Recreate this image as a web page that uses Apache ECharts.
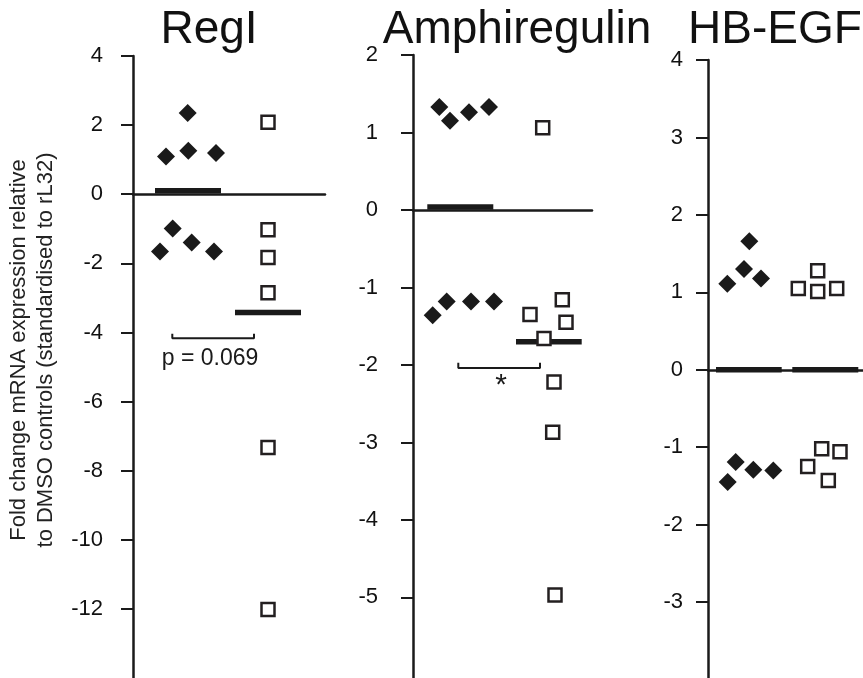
<!DOCTYPE html>
<html>
<head>
<meta charset="utf-8">
<script src="https://cdn.jsdelivr.net/npm/echarts@6/dist/echarts.min.js"></script>
<style>
  html, body { margin: 0; padding: 0; background: #fff; }
  #chart { width: 863px; height: 678px; }
</style>
</head>
<body>
<div id="chart"></div>
<script>
// ---- data (x = jitter slot, 1 unit = 10px from the y axis) ----
const titles = ['RegI', 'Amphiregulin', 'HB-EGF'];

// RegI
const regCtrlX = [3.3, 5.47, 5.53, 8.3, 3.97, 5.87, 2.7, 8.1];
const regCtrlY = [1.09, 2.35, 1.26, 1.19, -0.99, -1.40, -1.66, -1.66];
const regTrtX = [13.5, 13.5, 13.5, 13.5, 13.5, 13.5];
const regTrtY = [2.08, -1.03, -1.83, -2.85, -7.33, -12.02];
const regMeans = [0.1, -3.42];
const regMeanSpan = [[2.2, 8.8], [10.2, 16.8]];
const regTicks = [4, 2, 0, -2, -4, -6, -8, -10, -12];

// Amphiregulin
const amphCtrlX = [2.63, 3.7, 5.6, 7.6, 1.97, 3.37, 5.8, 8.1];
const amphCtrlY = [1.33, 1.15, 1.26, 1.33, -1.36, -1.18, -1.18, -1.18];
const amphTrtX = [12.97, 11.7, 14.93, 15.3, 13.1, 14.1, 13.97, 14.2];
const amphTrtY = [1.06, -1.35, -1.16, -1.45, -1.66, -2.22, -2.87, -4.97];
const amphMeans = [0.04, -1.70];
const amphMeanSpan = [[1.43, 8.03], [10.3, 16.87]];
const amphTicks = [2, 1, 0, -1, -2, -3, -4, -5];

// HB-EGF
const hbCtrlX = [1.93, 3.6, 4.13, 5.3, 1.97, 2.77, 4.53, 6.53];
const hbCtrlY = [1.11, 1.30, 1.66, 1.18, -1.45, -1.19, -1.29, -1.30];
const hbTrtX = [9.03, 10.97, 10.97, 12.87, 9.97, 11.37, 13.2, 12.03];
const hbTrtY = [1.05, 1.28, 1.01, 1.05, -1.25, -1.02, -1.06, -1.43];
const hbMeans = [0, 0];
const hbMeanSpan = [[0.8, 7.37], [8.43, 15.03]];
const hbTicks = [4, 3, 2, 1, 0, -1, -2, -3];

// significance brackets: [x1, x2, yLine, yEnd]
const regBracket = [3.93, 12.1, -4.17, -4.04];
const amphBracket = [4.53, 12.7, -2.04, -1.97];
// note text, x, y, font size
const regNote = ['p = 0.069', 7.7, -4.75, 23];
const amphNote = ['*', 8.8, -2.27, 30];

const ink = '#1a1a1a';
const font = '"Liberation Sans", Arial, sans-serif';

let myChart = echarts.init(document.getElementById('chart'));

function zip(xs, ys) {
  return xs.map(function (x, i) { return [x, ys[i]]; });
}

let grids = [
  { left: 133, top: 56, width: 192, bottom: 0 },
  { left: 413, top: 55, width: 179, bottom: 0 },
  { left: 708, top: 60, width: 155, bottom: 0 }
];
let xMax = [19.2, 17.9, 15.5];
let yRange = [[-14, 4], [-6.04, 2], [-3.98, 4]];
let tickSets = [regTicks, amphTicks, hbTicks];
let labelMargin = [30, 35, 25];

let xAxis = [], yAxis = [];
for (let i = 0; i < 3; i++) {
  xAxis.push({
    gridIndex: i, type: 'value', min: 0, max: xMax[i],
    axisLine: { show: true, onZero: true, lineStyle: { color: ink, width: 2.5 } },
    axisTick: { show: false }, axisLabel: { show: false }, splitLine: { show: false }
  });
  yAxis.push({
    gridIndex: i, type: 'value', min: yRange[i][0], max: yRange[i][1],
    axisLine: { show: true, lineStyle: { color: ink, width: 2.5 } },
    axisTick: { show: true, length: 12, customValues: tickSets[i], lineStyle: { color: ink, width: 2 } },
    axisLabel: { show: true, customValues: tickSets[i], margin: labelMargin[i], fontSize: 22, fontFamily: font, color: '#111' },
    splitLine: { show: false }
  });
}

let series = [];
function addPanel(idx, cx, cy, tx, ty, means, spans) {
  spans.forEach(function (s, k) {
    series.push({
      type: 'line', xAxisIndex: idx, yAxisIndex: idx, symbol: 'none', z: 3,
      lineStyle: { color: ink, width: 5.5, cap: 'butt' },
      data: [[s[0], means[k]], [s[1], means[k]]], silent: true
    });
  });
  series.push({
    type: 'scatter', xAxisIndex: idx, yAxisIndex: idx, symbol: 'diamond', symbolSize: 18, z: 4,
    itemStyle: { color: ink, opacity: 1 }, data: zip(cx, cy)
  });
  series.push({
    type: 'scatter', xAxisIndex: idx, yAxisIndex: idx, symbol: 'rect', symbolSize: 13, z: 5,
    itemStyle: { color: '#fff', borderColor: '#231f20', borderWidth: 2.5, opacity: 1 }, data: zip(tx, ty)
  });
}
addPanel(0, regCtrlX, regCtrlY, regTrtX, regTrtY, regMeans, regMeanSpan);
addPanel(1, amphCtrlX, amphCtrlY, amphTrtX, amphTrtY, amphMeans, amphMeanSpan);
addPanel(2, hbCtrlX, hbCtrlY, hbTrtX, hbTrtY, hbMeans, hbMeanSpan);

function addBracket(idx, b) {
  series.push({
    type: 'line', xAxisIndex: idx, yAxisIndex: idx, symbol: 'none', z: 3,
    lineStyle: { color: ink, width: 2 },
    data: [[b[0], b[3]], [b[0], b[2]], [b[1], b[2]], [b[1], b[3]]]
  });
}
addBracket(0, regBracket);
addBracket(1, amphBracket);

let titleX = [209, 517, 775];
let graphic = titles.map(function (t, i) {
  return {
    type: 'text', x: titleX[i], y: 30,
    style: { text: t, fontSize: 46, fontFamily: font, fill: '#111', align: 'center', verticalAlign: 'middle' }
  };
});
graphic.push({
  type: 'text', x: 32, y: 350, rotation: Math.PI / 2,
  style: {
    text: 'Fold change mRNA expression relative\nto DMSO controls (standardised to rL32)',
    fontSize: 22, lineHeight: 27, fontFamily: font, fill: '#222', align: 'center', verticalAlign: 'middle'
  }
});

myChart.setOption({
  animation: false,
  backgroundColor: '#fff',
  grid: grids,
  xAxis: xAxis,
  yAxis: yAxis,
  graphic: graphic,
  series: series
});

// notes under the brackets, placed through the grid's own scale
[[0, regNote], [1, amphNote]].forEach(function (n) {
  let p = myChart.convertToPixel({ gridIndex: n[0] }, [n[1][1], n[1][2]]);
  graphic.push({
    type: 'text', x: p[0], y: p[1], z: 10,
    style: { text: n[1][0], fontSize: n[1][3], fontFamily: font, fill: '#1a1a1a', align: 'center', verticalAlign: 'middle' }
  });
});
myChart.setOption({ graphic: graphic });
</script>
</body>
</html>
